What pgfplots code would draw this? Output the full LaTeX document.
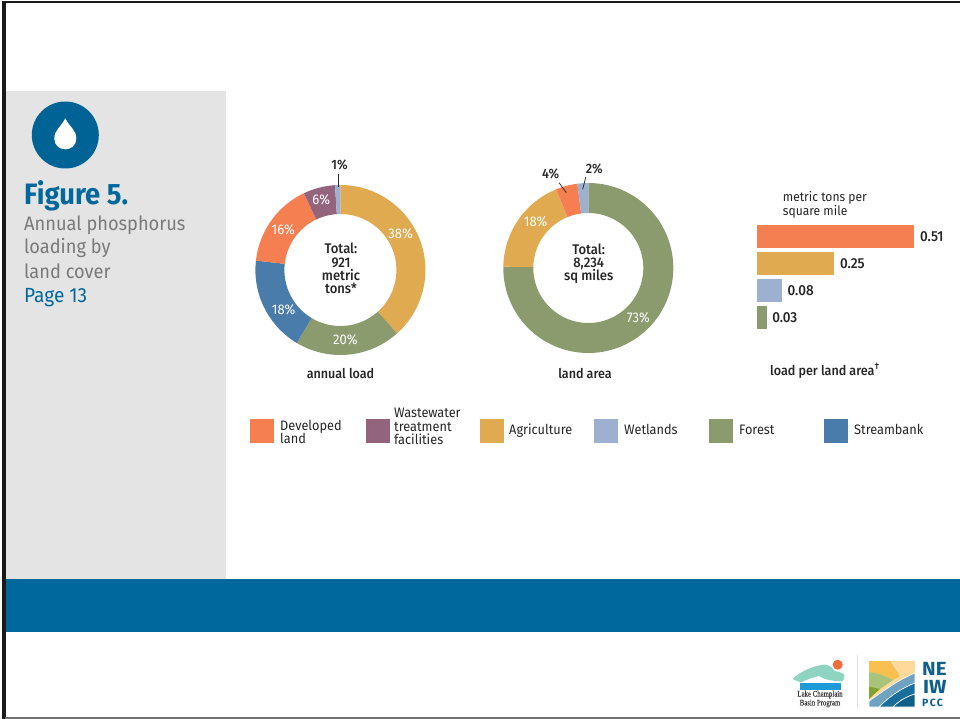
\documentclass[border=0pt]{standalone}
\usepackage{pgfplots}
\pgfplotsset{compat=1.18}
\usepackage{fontspec}
\setmainfont[FakeStretch=0.93]{Fira Sans}
\newfontfamily\medfont[FakeStretch=0.93]{Fira Sans Medium}
\newfontfamily\logoserif[FakeStretch=0.8,FakeBold=0.6]{Liberation Serif}
\newfontfamily\logosans[FakeStretch=1.08]{Fira Sans}
\newfontfamily\logosanswide[LetterSpace=12]{Fira Sans}
\definecolor{developed}{HTML}{F67F52}
\definecolor{wastewater}{HTML}{94647D}
\definecolor{agriculture}{HTML}{E0AA50}
\definecolor{wetlands}{HTML}{9DB0D0}
\definecolor{forest}{HTML}{8B9B6E}
\definecolor{streambank}{HTML}{4A7CAB}
\definecolor{deepblue}{HTML}{00689D}
\definecolor{panel}{HTML}{E4E4E4}
\definecolor{ink}{HTML}{262626}
\definecolor{lcteal}{HTML}{8FD3C1}
\definecolor{lcorange}{HTML}{F26B3A}
\definecolor{lcblue}{HTML}{1E9AD6}
\definecolor{npeach}{HTML}{FFD99A}
\definecolor{nyellow}{HTML}{F9C04F}
\definecolor{nsage}{HTML}{A8C47A}
\definecolor{ngreen}{HTML}{7FA32E}
\definecolor{nsky}{HTML}{6FA3C4}
\definecolor{nblue}{HTML}{1A6E9C}
\definecolor{nnavy}{HTML}{0E5F8A}
\newcommand{\fs}[1]{\fontsize{#1}{#1}\selectfont}

% Ring chart: centre x, centre y, outer radius, inner radius, list of value/colour.
% Slices run clockwise from twelve o'clock, each in proportion to its value.
\newcommand{\donut}[5]{%
  \gdef\ringsum{0}%
  \foreach \v/\c in {#5}{\pgfmathsetmacro\t{\ringsum+\v}\xdef\ringsum{\t}}%
  \gdef\ringangle{0}%
  \foreach \v/\c in {#5}{%
    \pgfmathsetmacro\aend{\ringangle+\v/\ringsum*360}%
    \pgfmathtruncatemacro\n{max(2,(\aend-\ringangle)/2)}%
    \gdef\pts{}%
    \foreach \i in {0,...,\n}{%
      \pgfmathsetmacro\a{\ringangle+(\aend-\ringangle)*(\i/\n)}%
      \pgfmathsetmacro\px{#1+#3*sin(\a)}%
      \pgfmathsetmacro\py{#2-#3*cos(\a)}%
      \xdef\pts{\pts (\px,\py)}%
    }%
    \foreach \i in {0,...,\n}{%
      \pgfmathsetmacro\a{\aend-(\aend-\ringangle)*(\i/\n)}%
      \pgfmathsetmacro\px{#1+#4*sin(\a)}%
      \pgfmathsetmacro\py{#2-#4*cos(\a)}%
      \xdef\pts{\pts (\px,\py)}%
    }%
    \edef\cmd{\noexpand\addplot[fill=\c,draw=none,forget plot] coordinates {\pts};}%
    \cmd
    \xdef\ringangle{\aend}%
  }%
}
\newcommand{\swatch}[2]{\fill[#2] (#1,418.5) rectangle ({#1+24},443);}

\begin{document}
\begin{tikzpicture}
\begin{axis}[
  at={(0pt,0pt)}, anchor=south west,
  scale only axis, width=960pt, height=719pt,
  xmin=0, xmax=960, ymin=0, ymax=719, y dir=reverse,
  hide axis, clip=true,
  nodes={inner sep=0pt},
]
% slide frame and panels
\fill[white] (0,0) rectangle (960,719);
\fill[panel] (5,91) rectangle (226,579);
\fill[deepblue] (5,579) rectangle (960,632);
\fill[black!90] (2,1) rectangle (960,3.5);
\fill[black!90] (2,1) rectangle (5.5,719);
\fill[black!55] (5,717) rectangle (960,719);

% water drop badge
\fill[deepblue!95!black] (65.3,135) circle[radius=33.5];
\fill[white] (65.3,118.3) .. controls (61,127) and (54.3,130) .. (54.3,138.5)
  .. controls (54.3,145.5) and (59.5,149.3) .. (65.3,149.3)
  .. controls (71,149.3) and (76.3,145.5) .. (76.3,138.5)
  .. controls (76.3,130) and (69.5,127) .. (65.3,118.3) -- cycle;

% side caption
\node[anchor=base west,text=deepblue] at (24,204.5) {\fs{29.5}\bfseries Figure 5.};
\node[anchor=base west,text=black!52] at (24,230) {\fs{19.6}Annual phosphorus};
\node[anchor=base west,text=black!52] at (24,254) {\fs{19.6}loading by};
\node[anchor=base west,text=black!52] at (24,278) {\fs{19.6}land cover};
\node[anchor=base west,text=deepblue] at (24,302) {\fs{20.5}Page 13};

% annual load ring
\donut{340.4}{270}{85}{56}{38/agriculture,20/forest,18/streambank,16/developed,6/wastewater,1/wetlands}
\node[white] at (400.7,233.3) {\fs{14}38\%};
\node[white] at (345.3,339.7) {\fs{14}20\%};
\node[white] at (283.7,310) {\fs{14}18\%};
\node[white] at (283.3,230) {\fs{14}16\%};
\node[white] at (321.3,199.3) {\fs{14}6\%};
\node[text=ink] at (339.5,165) {\medfont\fs{13.5}1\%};
\draw[ink,line width=0.7pt] (338.7,174) -- (338.7,187);
\node[anchor=base,text=ink] at (341,254) {\medfont\fs{14}Total:};
\node[anchor=base,text=ink] at (341,267) {\medfont\fs{14}921};
\node[anchor=base,text=ink] at (341,280) {\medfont\fs{14}metric};
\node[anchor=base,text=ink] at (341,293.3) {\medfont\fs{14}tons*};
\node[text=ink] at (340.5,374) {\medfont\fs{13.5}annual load};

% land area ring
\donut{588.3}{268}{85}{55}{73/forest,18/agriculture,4/developed,2/wetlands}
\node[white] at (638.3,317.3) {\fs{14}73\%};
\node[white] at (535.7,221.7) {\fs{14}18\%};
\node[text=ink] at (550.7,174) {\medfont\fs{13.5}4\%};
\node[text=ink] at (594.3,169) {\medfont\fs{13.5}2\%};
\draw[ink,line width=0.7pt] (559,182.7) -- (566.3,192.7);
\draw[ink,line width=0.7pt] (585.7,177.3) -- (582.7,189.3);
\node[anchor=base,text=ink] at (588.7,254.3) {\medfont\fs{14}Total:};
\node[anchor=base,text=ink] at (588.7,267.7) {\medfont\fs{14}8,234};
\node[anchor=base,text=ink] at (588.7,280.7) {\medfont\fs{14}sq miles};
\node[text=ink] at (585,373.3) {\medfont\fs{13.5}land area};

% captions of the bar panel
\node[anchor=base west,text=ink] at (782.7,201.7) {\fs{13}metric tons per};
\node[anchor=base west,text=ink] at (782.7,215) {\fs{13}square mile};
\node[anchor=base west,text=ink] at (770,375) {\medfont\fs{13.5}load per land area\textsuperscript{†}};

% land cover key
\swatch{250}{developed}
\swatch{366}{wastewater}
\swatch{480}{agriculture}
\swatch{594}{wetlands}
\swatch{709}{forest}
\swatch{824}{streambank}
\node[anchor=base west,text=ink] at (280,430) {\fs{13.7}Developed};
\node[anchor=base west,text=ink] at (280,443) {\fs{13.7}land};
\node[anchor=base west,text=ink] at (394,417.5) {\fs{13.7}Wastewater};
\node[anchor=base west,text=ink] at (394,431) {\fs{13.7}treatment};
\node[anchor=base west,text=ink] at (394,444) {\fs{13.7}facilities};
\node[anchor=base west,text=ink] at (509,434) {\fs{13.7}Agriculture};
\node[anchor=base west,text=ink] at (624,434) {\fs{13.7}Wetlands};
\node[anchor=base west,text=ink] at (739,434) {\fs{13.7}Forest};
\node[anchor=base west,text=ink] at (854,434) {\fs{13.7}Streambank};

% Lake Champlain Basin Program mark
\fill[black!12] (856.5,655) rectangle (857,708);
\fill[lcteal] (792.5,679) .. controls (802,670) and (815,665.5) .. (825,664.5)
  .. controls (831,665.5) and (833,669) .. (834.5,671)
  .. controls (840,672) and (843,673) .. (844.5,675)
  .. controls (844,679) and (843,681) .. (842,681.5)
  .. controls (833,681) and (825,680) .. (819,676)
  .. controls (811,678) and (803,681) .. (801,682.5) -- cycle;
\fill[lcorange] (837.7,664.7) circle[radius=5];
\fill[lcblue] (800,683) rectangle (841,689.7);
\node[text=black!75] at (820,694.5) {\logoserif\fs{8.5}Lake Champlain};
\node[text=black!75] at (820,703.5) {\logoserif\fs{8.5}Basin Program};

% NEIWPCC mark
\fill[npeach] (869,661) rectangle (915,707);
\fill[nyellow] (869,661) -- (890,661) .. controls (893,666) and (896,670) .. (900,676)
  -- (893,680) .. controls (886,676) and (878,673) .. (869,672) -- cycle;
\fill[nsage] (869,672) .. controls (878,673) and (886,676) .. (893,680)
  -- (880,689) .. controls (876,688) and (873,687) .. (869,687) -- cycle;
\fill[ngreen] (869,687) .. controls (873,687) and (876,688) .. (880,689)
  -- (869,699) -- cycle;
\fill[nsky,draw=white,line width=0.6pt] (915,673) -- (915,683) .. controls (900,689) and (889,697) .. (879,707)
  -- (869,707) -- (869,701) .. controls (885,690) and (898,680) .. (915,673) -- cycle;
\fill[nblue,draw=white,line width=0.6pt] (915,683) -- (915,694) .. controls (905,697) and (898,702) .. (893,707)
  -- (879,707) .. controls (889,697) and (900,689) .. (915,683) -- cycle;
\fill[nnavy,draw=white,line width=0.6pt] (915,694) -- (915,707) -- (893,707) .. controls (898,702) and (905,697) .. (915,694) -- cycle;
\fill[white] (915,660) rectangle (917,708);
\node[anchor=base west,text=nnavy] at (922,675.5) {\logosans\fs{19}\bfseries NE};
\node[anchor=base west,text=nnavy] at (923,693.5) {\logosans\fs{19}\bfseries IW};
\node[anchor=base west,text=nnavy] at (922,706) {\logosanswide\fs{10.5}\bfseries PCC};
\end{axis}

% load per land area, on its own value scale
\begin{axis}[
  at={(757.3pt,496pt)}, anchor=north west,
  scale only axis, width=184.8pt, height=108pt,
  xmin=0, xmax=0.6, ymin=-0.5, ymax=3.5, y dir=reverse,
  hide axis, clip=false,
  xbar, bar width=23.5pt, bar shift=0pt,
  nodes near coords, point meta=x,
  nodes near coords align={horizontal},
  every node near coord/.append style={text=ink,font=\medfont\fs{14.5},inner sep=5.5pt},
  /pgf/number format/.cd, fixed, fixed zerofill, precision=2, assume math mode=true,
]
\addplot[draw=none,fill=developed] coordinates {(0.51,0)};
\addplot[draw=none,fill=agriculture] coordinates {(0.25,1)};
\addplot[draw=none,fill=wetlands] coordinates {(0.08,2)};
\addplot[draw=none,fill=forest] coordinates {(0.03,3)};
\end{axis}
\end{tikzpicture}
\end{document}
